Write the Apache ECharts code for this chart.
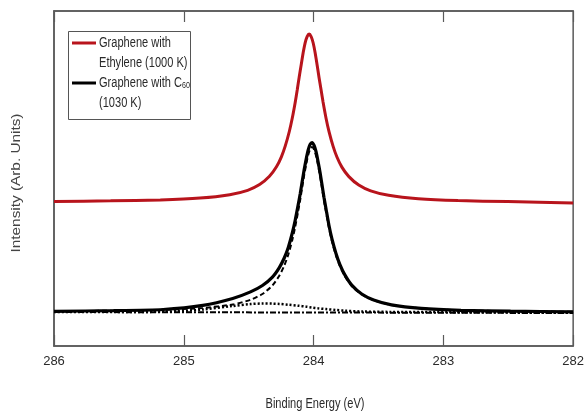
<!DOCTYPE html>
<html><head><meta charset="utf-8">
<script src="https://cdn.jsdelivr.net/npm/echarts@6/dist/echarts.min.js"></script>
<style>html,body{margin:0;padding:0;background:#fff}#c{width:587px;height:411px}</style>
</head><body><div id="c"></div>
<script>
// Binding energy ticks (eV)
const xTickLabels = [286, 285, 284, 283, 282];

// Graphene with Ethylene (1000 K) - red
const redEnergy = [286.000,285.564,285.181,284.875,284.646,284.508,284.416,284.340,284.286,284.248,284.218,284.187,284.164,284.141,284.126,284.111,284.095,284.080,284.065,284.049,284.034,
  284.019,284.003,283.988,283.973,283.958,283.942,283.927,283.904,283.881,283.850,283.820,283.782,283.728,283.652,283.560,283.422,283.193,282.887,282.504,282.000];
const redIntensity = [144.5,145.2,146.1,147.9,151.3,155.7,161.4,169.7,179.2,189.2,200.1,214.5,228.0,244.1,256.1,268.8,281.5,293.4,303.2,309.7,312.0,
  309.5,303.0,293.2,281.3,268.6,255.9,243.9,227.8,214.3,199.9,189.0,178.9,169.4,161.0,155.2,150.7,147.3,145.4,144.4,143.0];

// Graphene with C60 (1030 K) - black measured curve and main fitted component (dashed)
const blackEnergy = [286.000,285.541,285.159,284.853,284.623,284.486,284.394,284.317,284.264,284.226,284.195,284.165,284.142,284.119,284.103,284.088,284.073,284.057,284.042,284.027,284.012,
  283.996,283.981,283.966,283.950,283.935,283.920,283.904,283.882,283.859,283.828,283.797,283.759,283.706,283.629,283.537,283.400,283.170,282.864,282.482,282.000];
const blackIntensity = [34.7,35.3,36.5,40.6,47.5,54.1,60.5,68.9,78.4,88.0,98.6,112.5,125.5,140.9,152.2,164.2,175.9,186.9,195.8,201.6,203.5,
  200.6,194.3,184.8,173.5,161.2,148.8,137.0,121.0,107.3,92.8,81.4,71.1,60.9,52.0,46.0,41.1,37.6,35.7,34.8,34.2];
const mainFitIntensity = [34.7,35.3,36.2,38.1,41.5,46.2,52.0,60.5,70.3,80.3,91.3,105.5,118.9,134.6,146.2,158.4,170.4,181.6,190.8,196.8,199.0,
  196.3,190.3,181.1,169.9,157.9,145.7,134.1,118.4,105.0,90.8,79.8,69.8,60.0,51.5,45.7,41.0,37.6,35.7,34.8,34.2];

// Small broad fitted component (dotted)
const smallEnergy = [286.000,285.541,285.159,284.853,284.623,284.486,284.394,284.317,284.264,284.195,284.119,284.057,284.012,283.966,283.904,283.828,283.759,283.629,283.400,282.000];
const smallIntensity = [34.0,34.0,34.3,36.5,40.0,41.9,42.5,42.4,42.1,41.3,40.3,39.3,38.5,37.7,36.9,36.0,35.3,34.5,34.1,33.5];

// Background (dash-dot)
const bgEnergy = [286.00, 282.00];
const bgIntensity = [34, 33];

const pair = (xs, ys) => xs.map((x, i) => [x, ys[i]]);
const FONT = "'Liberation Sans', Arial, sans-serif";
const RED = '#b8141c';
const AX = '#5a5a5a';
const TXT = '#2a2a2a';

const chart = echarts.init(document.getElementById('c'), null, {renderer: 'canvas'});
chart.setOption({
  animation: false,
  backgroundColor: '#fff',
  grid: {left: 54, right: 10, top: 11, bottom: 65, show: true, borderColor: AX, borderWidth: 1.5, backgroundColor: 'transparent'},
  xAxis: [{
    type: 'value', min: 282, max: 286, interval: 1, inverse: true, position: 'bottom',
    axisLine: {show: true, lineStyle: {color: AX, width: 1.5}},
    axisTick: {show: true, inside: true, length: 11, lineStyle: {color: AX, width: 1.2}},
    axisLabel: {show: true, margin: 9, color: TXT, fontFamily: FONT, fontSize: 13,
      formatter: v => xTickLabels.includes(v) ? String(v) : ''},
    splitLine: {show: false}
  }, {
    type: 'value', min: 282, max: 286, interval: 1, inverse: true, position: 'top',
    axisLine: {show: true, lineStyle: {color: AX, width: 1.5}},
    axisTick: {show: true, inside: true, length: 11, lineStyle: {color: AX, width: 1.2}},
    axisLabel: {show: false}, splitLine: {show: false}
  }],
  yAxis: [{
    type: 'value', min: 0, max: 335, position: 'left',
    axisLine: {show: true, lineStyle: {color: AX, width: 1.5}},
    axisTick: {show: false}, axisLabel: {show: false}, splitLine: {show: false}
  }],
  series: [
    {name: 'bg', type: 'line', data: pair(bgEnergy, bgIntensity), showSymbol: false, symbol: 'none',
      lineStyle: {color: '#000', width: 2, type: [6, 2, 2, 2]}, z: 2},
    {name: 'small', type: 'line', data: pair(smallEnergy, smallIntensity), showSymbol: false, symbol: 'none', smooth: 0.3,
      lineStyle: {color: '#000', width: 2.5, type: [2, 2]}, z: 3},
    {name: 'mainfit', type: 'line', data: pair(blackEnergy, mainFitIntensity), showSymbol: false, symbol: 'none', smooth: 0.2,
      lineStyle: {color: '#000', width: 2, type: [5, 3]}, z: 4},
    {name: 'Graphene with C60 (1030 K)', type: 'line', data: pair(blackEnergy, blackIntensity), showSymbol: false, symbol: 'none', smooth: 0.2,
      lineStyle: {color: '#000', width: 3.2}, z: 5},
    {name: 'Graphene with Ethylene (1000 K)', type: 'line', data: pair(redEnergy, redIntensity), showSymbol: false, symbol: 'none', smooth: 0.2,
      lineStyle: {color: RED, width: 3}, z: 6}
  ],
  graphic: [
    {type: 'rect', left: 68, top: 31, shape: {width: 122, height: 88}, style: {fill: '#fff', stroke: '#555', lineWidth: 1}, z: 10},
    {type: 'line', shape: {x1: 72, y1: 43, x2: 96, y2: 43}, style: {stroke: RED, lineWidth: 3}, z: 11},
    {type: 'line', shape: {x1: 72, y1: 83, x2: 96, y2: 83}, style: {stroke: '#000', lineWidth: 3}, z: 11},
    {type: 'text', x: 99, y: 43, scaleX: 0.79, style: {text: 'Graphene with', fill: TXT, font: '14px ' + FONT, verticalAlign: 'middle'}, z: 11},
    {type: 'text', x: 99, y: 63, scaleX: 0.79, style: {text: 'Ethylene (1000 K)', fill: TXT, font: '14px ' + FONT, verticalAlign: 'middle'}, z: 11},
    {type: 'text', x: 99, y: 83, scaleX: 0.79, style: {text: '{a|Graphene with C}{s|60}', fill: TXT, verticalAlign: 'middle',
      rich: {a: {fontFamily: FONT, fontSize: 14, fill: TXT}, s: {fontFamily: FONT, fontSize: 9, fill: TXT, padding: [5, 0, 0, 0]}}}, z: 11},
    {type: 'text', x: 99, y: 103, scaleX: 0.79, style: {text: '(1030 K)', fill: TXT, font: '14px ' + FONT, verticalAlign: 'middle'}, z: 11},
    // axis titles
    {type: 'text', x: 315, y: 404, scaleX: 0.79, style: {text: 'Binding Energy (eV)', fill: TXT, font: '14px ' + FONT, textAlign: 'center', verticalAlign: 'middle'}, z: 11},
    {type: 'text', x: 16, y: 183, rotation: Math.PI / 2, scaleX: 1.18, style: {text: 'Intensity (Arb. Units)', fill: '#444', font: '13px ' + FONT, textAlign: 'center', verticalAlign: 'middle'}, z: 11}
  ]
});
</script>
</body></html>
